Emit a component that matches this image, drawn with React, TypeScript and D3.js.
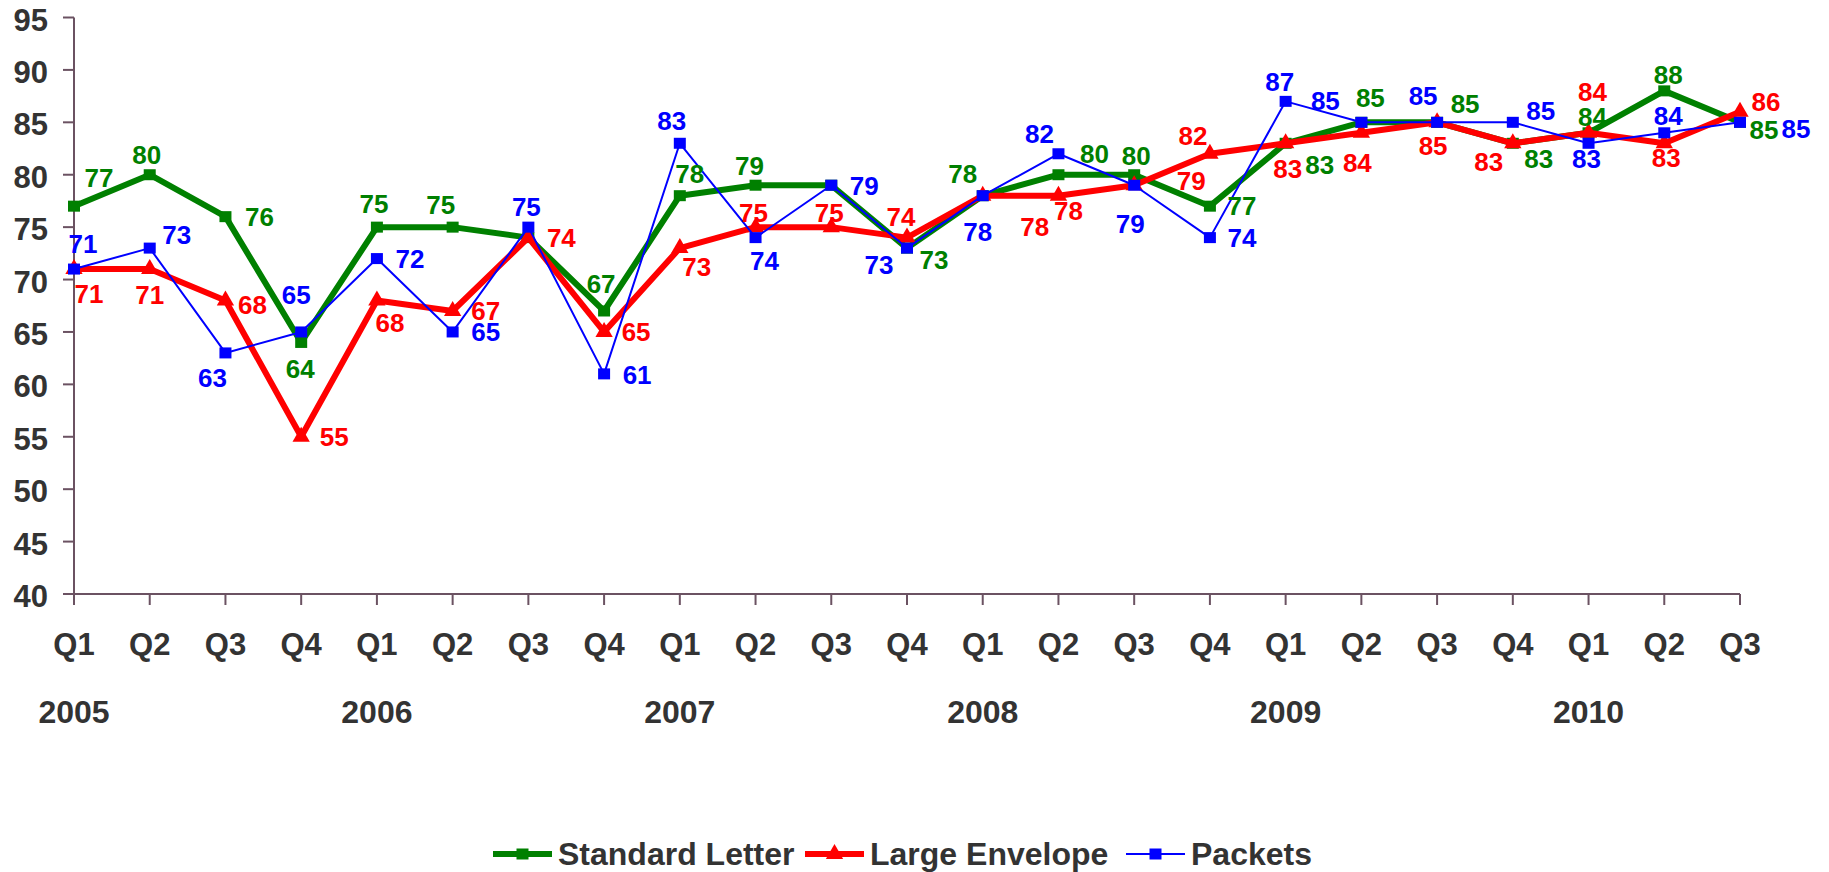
import { useRef, useEffect } from 'react';
import * as d3 from 'd3';

// quarter labels along the x axis, 2005 Q1 .. 2010 Q3
const quarters = [
  'Q1', 'Q2', 'Q3', 'Q4', 'Q1', 'Q2', 'Q3', 'Q4', 'Q1', 'Q2', 'Q3', 'Q4',
  'Q1', 'Q2', 'Q3', 'Q4', 'Q1', 'Q2', 'Q3', 'Q4', 'Q1', 'Q2', 'Q3',
];
const years = ['2005', '2006', '2007', '2008', '2009', '2010'];

const standardLetter = [77, 80, 76, 64, 75, 75, 74, 67, 78, 79, 79, 73, 78, 80, 80, 77, 83, 85, 85, 83, 84, 88, 85];
const largeEnvelope = [71, 71, 68, 55, 68, 67, 74, 65, 73, 75, 75, 74, 78, 78, 79, 82, 83, 84, 85, 83, 84, 83, 86];
const packets = [71, 73, 63, 65, 72, 65, 75, 61, 83, 74, 79, 73, 78, 82, 79, 74, 87, 85, 85, 85, 83, 84, 85];

const yDomain = [40, 95];

// hand placed data label nudges (like the original chart), null = label hidden
const letterNudge = [
  [25, -28], [-3, -20], [34, 0], [-1, 26], [-3, -23], [-12, -22], null, [-3, -27],
  [10, -22], [-6, -20], null, [27, 12], [-20, -22], [36, -21], [2, -19], [32, 0],
  [34, 21], [9, -25], [28, -19], [26, 15], [4, -16], [4, -16], [24, 7],
];
const envelopeNudge = [
  [15, 25], [0, 26], [27, 4], [33, 0], [13, 22], [33, 0], [33, 0], [32, 0],
  [17, 19], [-2, -14], [-2, -14], [-6, -21], [52, 31], [10, 15], [57, -5], [-17, -18],
  [2, 25], [-4, 30], [-4, 23], [-24, 18], [4, -41], [2, 14], [26, -10],
];
const packetsNudge = [
  [9, -25], [27, -13], [-13, 25], [-5, -37], [33, 0], [33, 0], [-2, -20], [33, 1],
  [-8, -23], [9, 23], [33, 0], [-28, 17], [-5, 36], [-19, -20], [-4, 38], [32, 0],
  [-6, -20], [-36, -22], [-14, -27], [28, -12], [-2, 15], [4, -17], [56, 6],
];

const FONT = '"Liberation Sans", Arial, sans-serif';
const AXIS = '#6b5262';
const TEXT = '#333333';

const App = () => {
  const svgRef = useRef<SVGSVGElement>(null);

  useEffect(() => {
    const svg = d3.select(svgRef.current);
    svg.selectAll('*').remove();

    const idx = quarters.map((_, i) => i);
    const x = d3.scalePoint<number>().domain(idx).range([74, 1740]);
    const y = d3.scaleLinear().domain(yDomain).range([594, 17.5]);

    // y axis
    const g = svg.append('g');
    g.append('line')
      .attr('x1', x(0)).attr('x2', x(0))
      .attr('y1', y(yDomain[1])).attr('y2', y(yDomain[0]))
      .attr('stroke', AXIS).attr('stroke-width', 2);
    y.ticks(11).forEach(t => {
      g.append('line')
        .attr('x1', x(0) - 11).attr('x2', x(0))
        .attr('y1', y(t)).attr('y2', y(t))
        .attr('stroke', AXIS).attr('stroke-width', 2);
      g.append('text')
        .text(t)
        .attr('x', 48)
        .attr('y', y(t) + 2 + 0.358 * 31)
        .attr('text-anchor', 'end')
        .attr('font-size', 31)
        .attr('font-weight', 'bold')
        .attr('font-family', FONT)
        .attr('fill', TEXT);
    });

    // x axis
    g.append('line')
      .attr('x1', x(0) - 11).attr('x2', x(idx.length - 1))
      .attr('y1', y(yDomain[0])).attr('y2', y(yDomain[0]))
      .attr('stroke', AXIS).attr('stroke-width', 2);
    idx.forEach(i => {
      g.append('line')
        .attr('x1', x(i)).attr('x2', x(i))
        .attr('y1', y(yDomain[0])).attr('y2', y(yDomain[0]) + 11)
        .attr('stroke', AXIS).attr('stroke-width', 2);
      g.append('text')
        .text(quarters[i])
        .attr('x', x(i))
        .attr('y', 643.5 + 0.358 * 31)
        .attr('text-anchor', 'middle')
        .attr('font-size', 31)
        .attr('font-weight', 'bold')
        .attr('font-family', FONT)
        .attr('fill', TEXT);
    });
    years.forEach((yr, k) => {
      g.append('text')
        .text(yr)
        .attr('x', x(k * 4))
        .attr('y', 712 + 0.358 * 32)
        .attr('text-anchor', 'middle')
        .attr('font-size', 32)
        .attr('font-weight', 'bold')
        .attr('font-family', FONT)
        .attr('fill', TEXT);
    });

    const series = [
      { name: 'Standard Letter', values: standardLetter, color: '#008000', width: 6, marker: 'square', size: 12, nudge: letterNudge },
      { name: 'Large Envelope', values: largeEnvelope, color: '#ff0000', width: 6, marker: 'triangle', size: 14, nudge: envelopeNudge },
      { name: 'Packets', values: packets, color: '#0000ff', width: 2, marker: 'square', size: 12, nudge: packetsNudge },
    ];

    const drawMarker = (sel, s, cx, cy) => {
      if (s.marker === 'square') {
        sel.append('rect')
          .attr('x', cx - s.size / 2).attr('y', cy - (s.size - 1) / 2)
          .attr('width', s.size).attr('height', s.size - 1)
          .attr('fill', s.color);
      } else {
        sel.append('path')
          .attr('d', d3.symbol(d3.symbolTriangle, 130)())
          .attr('transform', `translate(${cx},${cy})`)
          .attr('fill', s.color);
      }
    };

    const line = d3.line<number>().x((_, i) => x(i)).y(d => y(d));

    series.forEach(s => {
      const sg = svg.append('g');
      sg.append('path')
        .attr('d', line(s.values))
        .attr('fill', 'none')
        .attr('stroke', s.color)
        .attr('stroke-width', s.width)
        .attr('stroke-linejoin', 'round');
      s.values.forEach((v, i) => drawMarker(sg, s, x(i), y(v)));
    });

    // data labels
    series.forEach(s => {
      svg.append('g')
        .selectAll('text')
        .data(s.values.map((v, i) => ({ v, i, n: s.nudge[i] })).filter(d => d.n))
        .enter()
        .append('text')
        .text(d => d.v)
        .attr('x', d => x(d.i) + d.n[0])
        .attr('y', d => y(d.v) + d.n[1] + 0.358 * 26)
        .attr('text-anchor', 'middle')
        .attr('font-size', 26)
        .attr('font-weight', 'bold')
        .attr('font-family', FONT)
        .attr('fill', s.color);
    });

    // legend
    const legend = svg.append('g');
    const legendX = [493, 805, 1126];
    const ly = 854;
    series.forEach((s, k) => {
      const lx = legendX[k];
      legend.append('line')
        .attr('x1', lx).attr('x2', lx + 59)
        .attr('y1', ly).attr('y2', ly)
        .attr('stroke', s.color)
        .attr('stroke-width', s.width);
      drawMarker(legend, s, lx + 29.5, ly);
      legend.append('text')
        .text(s.name)
        .attr('x', lx + 65)
        .attr('y', ly + 0.358 * 32)
        .attr('font-size', 32)
        .attr('font-weight', 'bold')
        .attr('font-family', FONT)
        .attr('fill', TEXT);
    });
  }, []);

  return (
    <svg
      ref={svgRef}
      width={1829}
      height={872}
      style={{ position: 'absolute', left: 0, top: 0, display: 'block', background: '#fff' }}
    />
  );
};

export default App;
